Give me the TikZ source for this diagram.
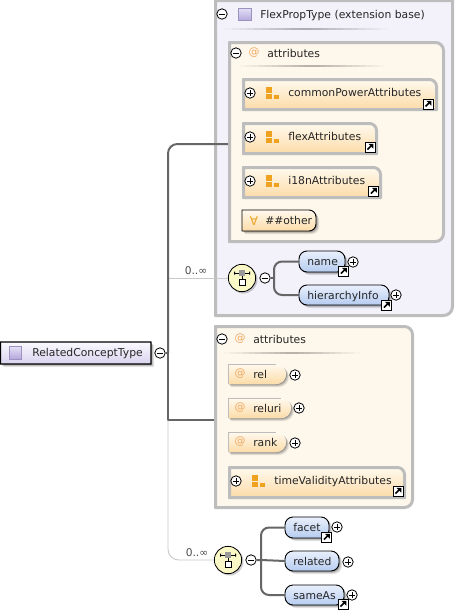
\documentclass[tikz,border=0pt]{standalone}
\usepackage{fontspec}
\setmainfont{DejaVu Sans}
\definecolor{grayb}{HTML}{BDBDBD}
\definecolor{lav}{HTML}{F3F1FA}
\definecolor{cream}{HTML}{FEF8EC}
\definecolor{orng}{HTML}{EFA21F}
\definecolor{atcol}{HTML}{F0A860}
\definecolor{conn}{HTML}{666666}
\definecolor{thin}{HTML}{C9C9C9}
\definecolor{lemon}{HTML}{FBF8C8}
\definecolor{peachtop}{HTML}{FFF9EE}
\definecolor{peachlow}{HTML}{FCDCA8}
\definecolor{bluetop}{HTML}{E9F0FC}
\definecolor{bluelow}{HTML}{B6CCF0}
\definecolor{purtop}{HTML}{FAF9FE}
\definecolor{purlow}{HTML}{D9D3EF}
\definecolor{icontop}{HTML}{E4E0F6}
\definecolor{iconlow}{HTML}{B4A8DC}
\definecolor{iconline}{HTML}{9C92C0}
\tikzset{
 lbl/.style={anchor=base west,inner sep=0,font=\fontsize{8.1}{10}\selectfont,text=black!85},
 smalllbl/.style={anchor=center,inner sep=0,font=\fontsize{8}{10}\selectfont,text=black!70},
 hit/.style={anchor=north west,inner sep=0,outer sep=0},
 btn/.style={circle,draw=black,fill=white,line width=.6pt,minimum size=7.8pt,inner sep=0},
 strong/.style={draw=conn,line width=1.5pt,line join=round},
 weak/.style={draw=thin,line width=.7pt},
 orangefill/.style={top color=peachtop,bottom color=peachlow},
 bluefill/.style={top color=bluetop,bottom color=bluelow},
 purplefill/.style={top color=purtop,bottom color=purlow}
}
% style, x1,y1,x2,y2, radii NE SE SW NW
\newcommand{\xsdshape}[9]{%
 \path[#1] ({#2+#9},#3) -- ({#4-#6},#3) arc[start angle=90,end angle=0,radius=#6*0.75pt]
   -- (#4,{#5-#7}) arc[start angle=0,end angle=-90,radius=#7*0.75pt]
   -- ({#2+#8},#5) arc[start angle=-90,end angle=-180,radius=#8*0.75pt]
   -- (#2,{#3+#9}) arc[start angle=180,end angle=90,radius=#9*0.75pt] -- cycle;}
\newcommand{\xsdshadow}[9]{%
 \xsdshape{fill=black,opacity=.10,shift={(3,3)}}{#2}{#3}{#4}{#5}{#6}{#7}{#8}{#9}%
 \xsdshape{fill=black,opacity=.14,shift={(2,2)}}{#2}{#3}{#4}{#5}{#6}{#7}{#8}{#9}%
 \xsdshape{fill=black,opacity=.18,shift={(1,1)}}{#2}{#3}{#4}{#5}{#6}{#7}{#8}{#9}}
\newcommand{\xsdhit}[5]{\node[hit,minimum width={(#4-#2)*0.75pt},minimum height={(#5-#3)*0.75pt}] (#1) at (#2,#3) {};}
% attribute group with gray border
\newcommand{\xsdgroup}[6]{%
 \xsdhit{#1}{#2}{#3}{#4}{#5}%
 \xsdshape{draw=grayb,line width=2.25pt,orangefill}{#2+1.5}{#3+1.5}{#4-1.5}{#5-1.5}{7}{.01}{.01}{.01}%
 \node[btn] (#1p) at (#2+8,#3+15) {};
 \draw[line width=.45pt] (#1p.center) ++(-2.6,0) -- ++(5.2,0) (#1p.center) ++(0,-2.6) -- ++(0,5.2);
 \xsdicon{#2+24}{#3+9}%
 \node[lbl] (#1t) at (#6,#3+18) {\csname xsdtxt#1\endcsname};}
\newcommand{\xsdicon}[2]{%
 \fill[orng] (#1,#2) rectangle ++(6,5.5);
 \fill[orng] (#1,#2+7) rectangle ++(6,5);
 \fill[orng] (#1+7.5,#2+8) rectangle ++(5,4);}
\newcommand{\xsdlink}[2]{%
 \draw[black,fill=white,line width=.7pt] (#1,#2) rectangle ++(10,10);
 \draw[black,line width=1.2pt] (#1+2.5,#2+7.5) -- (#1+6.5,#2+3.5);
 \fill[black] (#1+3.5,#2+1.8) -- (#1+8.3,#2+1.8) -- (#1+8.3,#2+6.6) -- cycle;}
\newcommand{\xsdminus}[3]{%
 \node[btn] (#1) at (#2,#3) {};
 \draw[line width=.45pt] (#1.center) ++(-2.6,0) -- ++(5.2,0);}
\newcommand{\xsdplus}[3]{%
 \node[btn] (#1) at (#2,#3) {};
 \draw[line width=.45pt] (#1.center) ++(-2.6,0) -- ++(5.2,0) (#1.center) ++(0,-2.6) -- ++(0,5.2);}
% element pill
\newcommand{\xsdpill}[6]{%
 \xsdhit{#1}{#2}{#3}{#4}{#5}%
 \xsdshadow{}{#2}{#3}{#4}{#5}{8}{8}{8}{8}%
 \xsdshape{draw=black,line width=.7pt,bluefill}{#2}{#3}{#4}{#5}{8}{8}{8}{8}%
 \node[lbl] (#1t) at (#2+8,#3+14) {#6};}
% attribute
\newcommand{\xsdattr}[6]{%
 \xsdhit{#1}{#2}{#3}{#4}{#5}%
 \xsdshadow{}{#2}{#3}{#4}{#5}{10}{10}{.01}{.01}%
 \xsdshape{fill=white,orangefill}{#2}{#3}{#4}{#5}{10}{10}{.01}{.01}%
 \draw[grayb,line width=.5pt] (#2,#5) -- (#2,#3) -- (#4-10,#3);
 \node[anchor=center,inner sep=0,font=\fontsize{8.2}{10}\selectfont,text=atcol] (#1a) at (#2+12,#3+10) {@};
 \node[lbl] (#1t) at (#2+25,#3+14) {#6};}
% type icon
\newcommand{\xsdtype}[2]{%
 \shade[top color=icontop,bottom color=iconlow,draw=iconline,line width=.5pt] (#1,#2) rectangle ++(12.5,12.5);}
% sequence compositor
\newcommand{\xsdseq}[3]{%
 \node[circle,fill=black,opacity=.2,minimum size=21pt,inner sep=0] (#1s) at (#2+1.5,#3+1.5) {};
 \node[circle,draw=black,fill=lemon,line width=.6pt,minimum size=20.5pt,inner sep=0] (#1) at (#2,#3) {};
 \draw[black,line width=.5pt] (#2-8,#3-5) -- (#2+8,#3-5) (#2,#3-5) -- (#2,#3+2);
 \fill[black] (#2-8,#3-6.5) rectangle ++(1,3) (#2+7,#3-6.5) rectangle ++(1,3);
 \fill[gray!80] (#2-3,#3-8) rectangle ++(6,6);
 \draw[black,fill=white,line width=.5pt] (#2-3,#3+1) rectangle ++(6,6);}
% fading header separator, built from short strips
\newcommand{\xsdrule}[4]{%
 \foreach \k in {0,...,23}{%
  \pgfmathtruncatemacro{\xsdmix}{30*(1-abs(\k-11.5)/11.5)}%
  \pgfmathsetmacro{\xsdfrom}{#1+(#3-#1)*\k/24}%
  \pgfmathsetmacro{\xsdto}{#1+(#3-#1)*(\k+1)/24}%
  \fill[black!\xsdmix!#4] (\xsdfrom,#2-1) rectangle (\xsdto,#2+1);}}
\def\xsdtxtcp{commonPowerAttributes}
\def\xsdtxtfl{flexAttributes}
\def\xsdtxtin{i18nAttributes}
\def\xsdtxttv{timeValidityAttributes}
\begin{document}
\begin{tikzpicture}[x=0.75pt,y=-0.75pt]
\useasboundingbox (0,0) rectangle (454,611);
\fill[white] (0,0) rectangle (454,611);
% outer extension box
\xsdhit{ext}{214}{-1}{454}{317}
\xsdshape{draw=grayb,line width=2.25pt,fill=lav}{215.5}{0.5}{452.5}{315.5}{.01}{9}{.01}{.01}
\xsdminus{extm}{222}{14}
\xsdtype{238.5}{8}
\node[lbl] (extt) at (260,18) {FlexPropType (extension base)};
\xsdrule{217}{29}{395}{lav}
% attributes 1
\xsdhit{at1}{228}{41}{445}{243}
\xsdshape{draw=grayb,line width=2.25pt,fill=cream}{229.5}{42.5}{443.5}{241.5}{8}{8}{.01}{.01}
\xsdminus{at1m}{236}{53}
\node[anchor=center,inner sep=0,font=\fontsize{8.2}{10}\selectfont,text=atcol] (at1a) at (254,53) {@};
\node[lbl] (at1t) at (267,57) {attributes};
\xsdrule{232}{66}{392}{cream}
\xsdgroup{cp}{242}{78}{438}{111}{288}
\xsdlink{423}{99}
\xsdgroup{fl}{242}{122}{378}{155}{288}
\xsdlink{365}{142}
\xsdgroup{in}{242}{166}{382}{199}{288}
\xsdlink{368.5}{186}
% any
\xsdhit{any}{242}{210}{316}{231}
\xsdshadow{}{242}{210}{316}{231}{7}{7}{.01}{.01}
\xsdshape{draw=black,line width=.7pt,orangefill}{242}{210}{316}{231}{7}{7}{.01}{.01}
\node[anchor=center,inner sep=0,font=\fontsize{9}{10}\selectfont,text=orng] (anyi) at (254,221) {∀};
\node[lbl] (anyt) at (265,224) {\#\#other};
% sequence 1
\xsdseq{sq}{242}{278}
\xsdminus{sqm}{265}{278}
\xsdpill{nm}{299}{251}{345}{272}{name}
\xsdpill{hi}{299}{285}{389}{305}{hierarchyInfo}
\xsdlink{338.5}{266}
\xsdlink{381.5}{300}
\xsdplus{nmp}{353}{262}
\xsdplus{hip}{396}{295}
\coordinate (sqj) at (274,278);
\draw[strong] (sqm) -- (sqj);
\draw[strong,rounded corners=6pt] (nm.west) -| (sqj) |- (hi.west);
% attributes 2
\xsdhit{at2}{214}{325}{414}{509}
\xsdshape{draw=grayb,line width=2.25pt,fill=cream}{215.5}{326.5}{412.5}{507.5}{8}{8}{.01}{.01}
\xsdminus{at2m}{222}{339}
\node[anchor=center,inner sep=0,font=\fontsize{8.2}{10}\selectfont,text=atcol] (at2a) at (240,339) {@};
\node[lbl] (at2t) at (253,343) {attributes};
\xsdrule{218}{353}{366}{cream}
\xsdattr{rl}{228}{364}{286}{384}{rel}
\xsdattr{ru}{228}{398}{291}{418}{reluri}
\xsdattr{rk}{228}{432}{286}{452}{rank}
\xsdplus{rlp}{295}{375}
\xsdplus{rup}{299}{408}
\xsdplus{rkp}{295}{443}
\xsdgroup{tv}{228}{466}{406}{499}{274}
\xsdlink{393}{486}
% sequence 2
\xsdseq{sr}{228}{560}
\xsdminus{srm}{251}{560}
\xsdpill{fc}{285}{517}{329}{538}{facet}
\xsdpill{re}{285}{551}{339}{571}{related}
\xsdpill{sa}{285}{585}{344}{605}{sameAs}
\xsdlink{321.5}{532}
\xsdlink{338}{599}
\xsdplus{fcp}{337}{527}
\xsdplus{rep}{348}{562}
\xsdplus{sap}{352}{595}
\coordinate (srj) at (261,560);
\draw[strong] (srm) -- (srj |- srm) -- (re.west);
\draw[strong,rounded corners=6pt] (fc.west) -| (srj) |- (sa.west);
% root
\xsdhit{root}{0}{342}{151}{364}
\xsdshadow{}{0.5}{342}{151}{364}{.01}{.01}{.01}{.01}
\xsdshape{draw=black,line width=.9pt,purplefill}{0.5}{342}{151}{364}{.01}{.01}{.01}{.01}
\xsdtype{9}{346.5}
\node[lbl] (roott) at (32,356) {RelatedConceptType};
\xsdminus{rootm}{160}{353}
% connectors
\coordinate (rj) at (168,353);
\coordinate (rtop) at (228,144);
\coordinate (rlow) at (214,420);
\coordinate (wj) at (168,420);
\draw[weak] (rj |- sq) -- (sq);
\draw[weak,rounded corners=8pt] (wj) |- (sr);
\draw[strong] (rootm) -- (rj);
\draw[strong,rounded corners=7pt] (rtop) -| (rj);
\draw[strong] (rj) -- (wj) -- (rlow);
\node[smalllbl] (o1) at (196,271) {0..∞};
\node[smalllbl] (o2) at (197,553) {0..∞};
\end{tikzpicture}
\end{document}
